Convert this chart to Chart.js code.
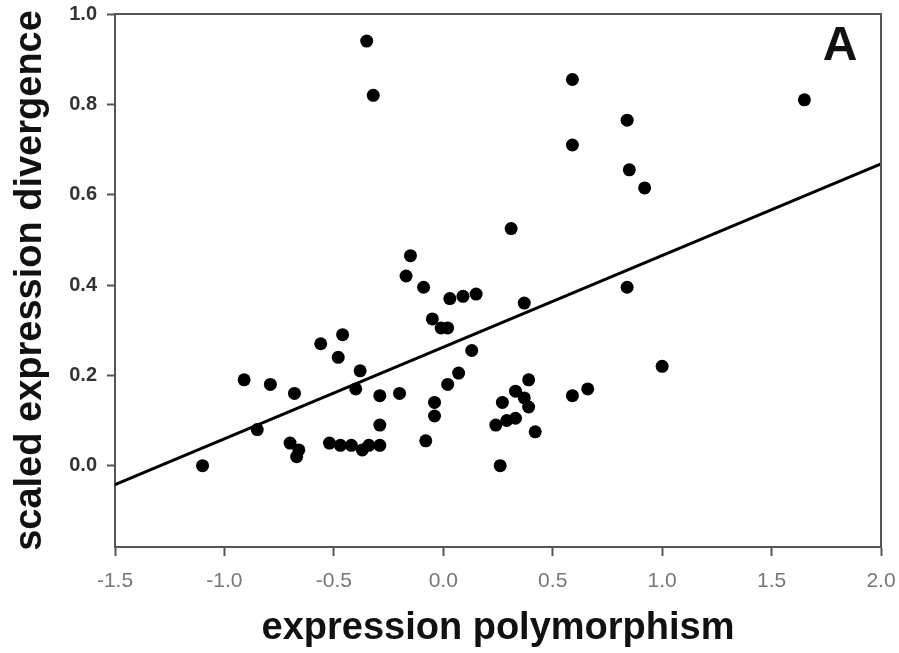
<!DOCTYPE html>
<html>
<head>
<meta charset="utf-8">
<script src="https://cdn.jsdelivr.net/npm/chart.js@4"></script>
<style>
  html, body { margin: 0; padding: 0; background: #fff; }
  #wrap { width: 899px; height: 653px; }
</style>
</head>
<body>
<div id="wrap"><canvas id="scatterChart" width="899" height="653"></canvas></div>
<script>
// values
const polymorphism = [-1.10, -0.91, -0.79, -0.85, -0.68, -0.70, -0.66, -0.67, -0.56, -0.46,
  -0.48, -0.38, -0.40, -0.52, -0.47, -0.42, -0.37, -0.34, -0.29, -0.29,
  -0.29, -0.20, -0.35, -0.32, -0.15, -0.17, -0.09, -0.08, -0.05, -0.01,
  0.02, 0.03, 0.09, 0.15, 0.13, 0.07, 0.02, -0.04, -0.04, 0.31,
  0.37, 0.27, 0.24, 0.29, 0.33, 0.33, 0.37, 0.39, 0.39, 0.42,
  0.26, 0.59, 0.66, 1.00, 0.59, 0.84, 0.59, 0.85, 0.92, 1.65, 0.84];
const divergence = [0.00, 0.19, 0.18, 0.08, 0.16, 0.05, 0.035, 0.02, 0.27, 0.29,
  0.24, 0.21, 0.17, 0.05, 0.045, 0.045, 0.035, 0.045, 0.045, 0.09,
  0.155, 0.16, 0.94, 0.82, 0.465, 0.42, 0.395, 0.055, 0.325, 0.305,
  0.305, 0.37, 0.375, 0.38, 0.255, 0.205, 0.18, 0.14, 0.11, 0.525,
  0.36, 0.14, 0.09, 0.10, 0.105, 0.165, 0.15, 0.19, 0.13, 0.075,
  0.00, 0.155, 0.17, 0.22, 0.855, 0.765, 0.71, 0.655, 0.615, 0.81, 0.395];

// fitted line end points
const fitX = [-1.5, 2.0];
const fitY = [-0.042, 0.668];

const xTicks = [-1.5, -1.0, -0.5, 0.0, 0.5, 1.0, 1.5, 2.0];
const yTicks = [0.0, 0.2, 0.4, 0.6, 0.8, 1.0];

const points = polymorphism.map((x, i) => ({ x: x, y: divergence[i] }));
const fitLine = fitX.map((x, i) => ({ x: x, y: fitY[i] }));

// top / right frame and the panel letter
const framePlugin = {
  id: 'frame',
  afterDraw(chart) {
    const { ctx, chartArea } = chart;
    ctx.save();
    ctx.strokeStyle = '#555';
    ctx.lineWidth = 2;
    ctx.beginPath();
    ctx.moveTo(chartArea.left, chartArea.top);
    ctx.lineTo(chartArea.right, chartArea.top);
    ctx.lineTo(chartArea.right, chartArea.bottom);
    ctx.stroke();

    ctx.fillStyle = '#111';
    ctx.font = 'bold 48px "Liberation Sans", Arial, sans-serif';
    ctx.textAlign = 'center';
    ctx.textBaseline = 'alphabetic';
    ctx.fillText('A', 840, 60);
    ctx.restore();
  }
};

const ctx = document.getElementById('scatterChart').getContext('2d');
new Chart(ctx, {
  type: 'scatter',
  data: {
    datasets: [
      {
        label: 'genes',
        data: points,
        backgroundColor: '#000',
        borderWidth: 0,
        pointRadius: 6.5,
        pointHoverRadius: 6.5
      },
      {
        label: 'fit',
        data: fitLine,
        showLine: true,
        borderColor: '#000',
        borderWidth: 3,
        pointRadius: 0,
        pointHoverRadius: 0
      }
    ]
  },
  options: {
    responsive: false,
    animation: false,
    events: [],
    layout: { padding: { top: 14, right: 18, left: 0, bottom: 0 } },
    plugins: {
      legend: { display: false },
      tooltip: { enabled: false }
    },
    scales: {
      x: {
        type: 'linear',
        min: -1.5,
        max: 2.0,
        afterFit: (scale) => {
          scale.height = 106;
          scale.paddingLeft = 0;
          scale.paddingRight = 0;
        },
        afterBuildTicks: (scale) => { scale.ticks = xTicks.map(v => ({ value: v })); },
        grid: { drawOnChartArea: false, tickLength: 9, tickWidth: 2, tickColor: '#555' },
        border: { color: '#555', width: 2 },
        ticks: {
          padding: 13,
          color: '#777',
          font: { family: '"Liberation Sans", Arial, sans-serif', size: 21 },
          callback: (v) => v.toFixed(1)
        },
        title: {
          display: true,
          text: 'expression polymorphism',
          color: '#111',
          padding: { top: 0, bottom: 2 },
          font: { family: '"Liberation Sans", Arial, sans-serif', size: 38, weight: 'bold' }
        }
      },
      y: {
        type: 'linear',
        min: -0.18,
        max: 1.0,
        afterFit: (scale) => {
          scale.width = 115;
          scale.paddingTop = 0;
          scale.paddingBottom = 0;
        },
        afterBuildTicks: (scale) => { scale.ticks = yTicks.map(v => ({ value: v })); },
        grid: { drawOnChartArea: false, tickLength: 8, tickWidth: 2, tickColor: '#555' },
        border: { color: '#555', width: 2 },
        ticks: {
          padding: 10,
          color: '#333',
          font: { family: '"Liberation Sans", Arial, sans-serif', size: 20, weight: 'bold' },
          callback: (v) => v.toFixed(1)
        },
        title: {
          display: true,
          text: 'scaled expression divergence',
          color: '#111',
          padding: { top: 8, bottom: 0 },
          font: { family: '"Liberation Sans", Arial, sans-serif', size: 38, weight: 'bold' }
        }
      }
    }
  },
  plugins: [framePlugin]
});
</script>
</body>
</html>
